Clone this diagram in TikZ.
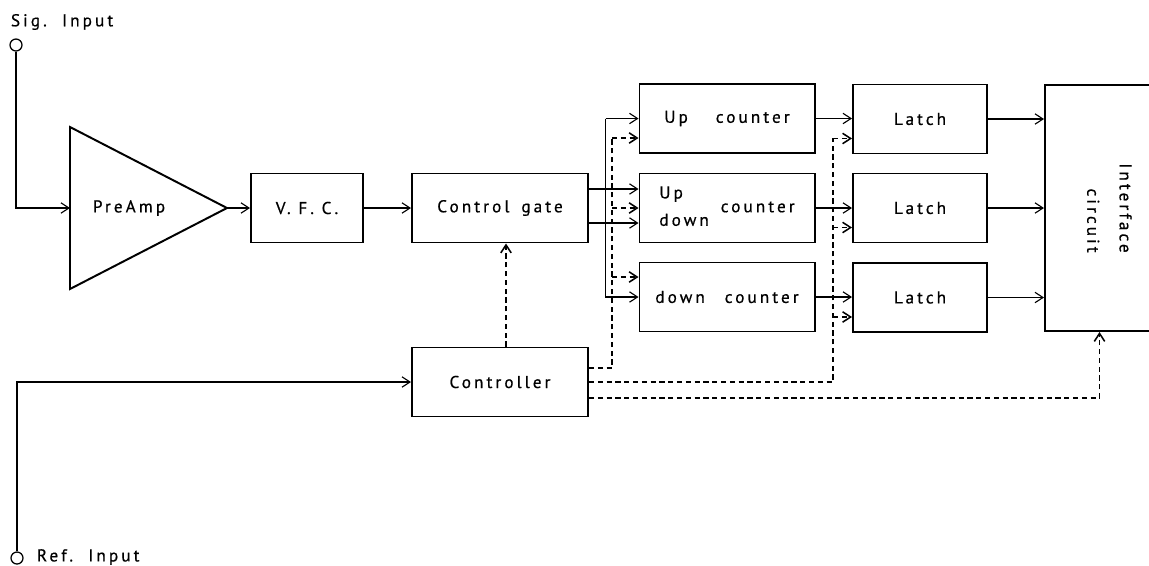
\documentclass[tikz,border=0pt]{standalone}
\usepackage{fontspec}
\newfontfamily\blockfont[LetterSpace=18, FakeBold=0.6]{PT Sans}
\usetikzlibrary{arrows.meta, positioning, calc}

\begin{document}
\begin{tikzpicture}[
  x=0.25mm, y=-0.25mm,
  every node/.style={font=\blockfont\fontsize{12.2}{14.5}\selectfont},
  block/.style={draw, line width=1.4pt, minimum height=17.25mm, inner sep=0pt},
  sig/.style={-{Straight Barb[length=2mm, width=2.6mm]}, line width=0.8pt},
  ctrl/.style={sig, line width=1.1pt, dash pattern=on 1.3mm off 0.9mm},
  terminal/.style={draw, circle, line width=0.9pt, minimum size=3mm, inner sep=0pt},
]
\clip (0,0) rectangle (1149,565);

% Inputs
\node[terminal] (sigin) at (16,45) {};
\node[anchor=west] (siglbl) at (6,22) {Sig.\ \ Input};
\node[terminal] (refin) at (17,558) {};
\node[anchor=west] (reflbl) at (32,557) {Ref.\ \ Input};

% PreAmp
\draw[line width=1.4pt] (70,127) -- (227,208) coordinate (amp out) -- (70,289) -- cycle;
\coordinate (amp in) at (70,208);
\node (preamp) at (129,208) {PreAmp};

% Main chain
\node[block, minimum width=28mm] (vfc) at (307,208) {V. F. C.};
\node[block, minimum width=44mm] (gate) at (500,208) {Control\hspace{3mm}gate};
\node[block, minimum width=44mm] (ctl) at (500,382) {Controller};

% Counters
\node[block, minimum width=43.75mm] (uc) at (727,118.5) {Up\hspace{7mm}counter};
\node[block, minimum width=43.75mm] (udc) at (727,208)
  {\begin{tabular}{@{}l@{}}Up\\[5pt]down\end{tabular}\hspace{3mm}counter};
\node[block, minimum width=43.75mm] (dc) at (727,297) {down\hspace{5mm}counter};

% Latches
\node[block, minimum width=33.5mm] (l1) at (920,119) {Latch};
\node[block, minimum width=33.5mm] (l2) at (920,208) {Latch};
\node[block, minimum width=33.5mm] (l3) at (920,297.5) {Latch};

% Interface
\node[block, minimum width=31.25mm, minimum height=61.5mm] (ifc) at (1107.5,208)
  {\rotatebox{-90}{\begin{tabular}{@{}r@{}}Interface\\[3mm]circuit\end{tabular}}};

% Signal path
\draw[sig] (sigin) |- (amp in);
\draw[sig] (amp out) -- (vfc);
\draw[sig] (vfc) -- (gate);
\draw[sig] (refin) |- (ctl.west);
\draw[sig] ([yshift=4.75mm]gate.east) -- ([yshift=4.75mm]udc.west);
\draw[sig] ([yshift=-3.75mm]gate.east) -- ([yshift=-3.75mm]udc.west);
\draw[sig] (uc.west) ++(-33,0) coordinate (gtop) -- (uc.west);
\draw[sig] (gtop) |- (dc.west);
\foreach \c/\l in {uc/l1, udc/l2, dc/l3} {
  \draw[sig] (\c.east) -- (\c.east -| \l.west);
  \draw[sig] (\l.east) -- (\l.east -| ifc.west);
}

% Control lines
\coordinate (cbus) at (612,138);
\coordinate (lbus) at (833,138);
\draw[ctrl] ([xshift=1.5mm]ctl.north) -- ([xshift=1.5mm]gate.south);
\draw[ctrl, -] ([yshift=3.5mm]ctl.east) -| (cbus);
\draw[ctrl] (cbus) -- (cbus -| uc.west);
\draw[ctrl] (cbus |- udc.west) -- (udc.west);
\coordinate (dc in) at ([yshift=5mm]dc.west);
\draw[ctrl] (cbus |- dc in) -- (dc in);
\draw[ctrl, -] (ctl.east) -| (lbus);
\foreach \l in {l1, l2, l3} {
  \coordinate (\l in) at ([yshift=4mm]\l.south west);
  \draw[ctrl] (lbus |- \l in) -- (\l in);
}
\draw[ctrl] ([yshift=-4mm]ctl.east) -| ([xshift=-2mm]ifc.south);

\end{tikzpicture}
\end{document}
